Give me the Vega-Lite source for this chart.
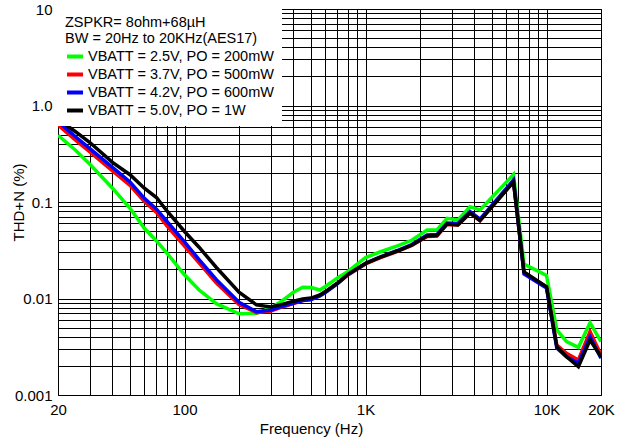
{
  "$schema": "https://vega.github.io/schema/vega-lite/v6.json",
  "width": 543,
  "height": 386,
  "autosize": {"type": "none"},
  "padding": {"left": 58, "top": 9, "right": 20, "bottom": 42},
  "background": "white",
  "config": {
    "font": "Liberation Sans",
    "view": {"stroke": "black", "strokeWidth": 1},
    "axis": {
      "grid": true,
      "gridColor": "black",
      "gridOpacity": 1,
      "gridWidth": 1,
      "ticks": false,
      "domain": false,
      "labelFont": "Liberation Sans",
      "labelFontSize": 15,
      "labelColor": "black",
      "labelFlush": false,
      "labelOverlap": false,
      "titleFont": "Liberation Sans",
      "titleFontSize": 15,
      "titleFontWeight": "normal",
      "titleColor": "black"
    }
  },
  "data": {
    "values": [
      {"f": 20, "v25": 0.491, "v37": 0.628, "v42": 0.683, "v50": 0.721},
      {"f": 25, "v25": 0.344, "v37": 0.437, "v42": 0.475, "v50": 0.535},
      {"f": 30, "v25": 0.2464, "v37": 0.3305, "v42": 0.3576, "v50": 0.4135},
      {"f": 40, "v25": 0.139, "v37": 0.2105, "v42": 0.2283, "v50": 0.2572},
      {"f": 50, "v25": 0.086, "v37": 0.149, "v42": 0.1612, "v50": 0.1918},
      {"f": 60, "v25": 0.0534, "v37": 0.1009, "v42": 0.1092, "v50": 0.139},
      {"f": 70, "v25": 0.0395, "v37": 0.0778, "v42": 0.0842, "v50": 0.1113},
      {"f": 80, "v25": 0.02947, "v37": 0.0564, "v42": 0.0628, "v50": 0.0807},
      {"f": 100, "v25": 0.0176, "v37": 0.035, "v42": 0.0386, "v50": 0.0495},
      {"f": 120, "v25": 0.0123, "v37": 0.0235, "v42": 0.02548, "v50": 0.0342},
      {"f": 150, "v25": 0.00884, "v37": 0.01444, "v42": 0.01566, "v50": 0.02096},
      {"f": 200, "v25": 0.00694, "v37": 0.00867, "v42": 0.00913, "v50": 0.0116},
      {"f": 250, "v25": 0.00703, "v37": 0.00713, "v42": 0.0073, "v50": 0.00859},
      {"f": 300, "v25": 0.00797, "v37": 0.00742, "v42": 0.0076, "v50": 0.00817},
      {"f": 350, "v25": 0.0096, "v37": 0.00822, "v42": 0.00836, "v50": 0.00875},
      {"f": 400, "v25": 0.01162, "v37": 0.00888, "v42": 0.00898, "v50": 0.00938},
      {"f": 450, "v25": 0.01306, "v37": 0.00953, "v42": 0.00953, "v50": 0.00988},
      {"f": 500, "v25": 0.013, "v37": 0.00976, "v42": 0.00976, "v50": 0.0101},
      {"f": 560, "v25": 0.01225, "v37": 0.01074, "v42": 0.0106, "v50": 0.01087},
      {"f": 600, "v25": 0.01332, "v37": 0.01168, "v42": 0.01154, "v50": 0.0118},
      {"f": 700, "v25": 0.01634, "v37": 0.0143, "v42": 0.0143, "v50": 0.01447},
      {"f": 800, "v25": 0.01905, "v37": 0.01752, "v42": 0.01773, "v50": 0.0178},
      {"f": 1000, "v25": 0.0266, "v37": 0.02278, "v42": 0.02305, "v50": 0.0231},
      {"f": 1200, "v25": 0.03033, "v37": 0.0263, "v42": 0.0269, "v50": 0.02666},
      {"f": 1500, "v25": 0.0351, "v37": 0.0307, "v42": 0.03144, "v50": 0.03106},
      {"f": 1800, "v25": 0.0401, "v37": 0.0354, "v42": 0.03627, "v50": 0.0356},
      {"f": 2190, "v25": 0.0513, "v37": 0.0439, "v42": 0.0455, "v50": 0.0444},
      {"f": 2480, "v25": 0.0513, "v37": 0.0444, "v42": 0.046, "v50": 0.045},
      {"f": 2820, "v25": 0.0678, "v37": 0.0585, "v42": 0.0606, "v50": 0.0592},
      {"f": 3240, "v25": 0.0651, "v37": 0.0578, "v42": 0.0599, "v50": 0.0578},
      {"f": 3780, "v25": 0.0894, "v37": 0.0769, "v42": 0.0797, "v50": 0.0769},
      {"f": 4290, "v25": 0.0826, "v37": 0.0643, "v42": 0.0666, "v50": 0.064},
      {"f": 6570, "v25": 0.1928, "v37": 0.1632, "v42": 0.169, "v50": 0.1612},
      {"f": 7510, "v25": 0.02278, "v37": 0.0186, "v42": 0.01794, "v50": 0.01882},
      {"f": 10000, "v25": 0.0173, "v37": 0.01316, "v42": 0.01285, "v50": 0.01326},
      {"f": 11400, "v25": 0.00472, "v37": 0.0033, "v42": 0.00307, "v50": 0.003166},
      {"f": 12900, "v25": 0.00357, "v37": 0.0027, "v42": 0.002493, "v50": 0.002493},
      {"f": 15000, "v25": 0.00312, "v37": 0.002306, "v42": 0.00213, "v50": 0.001965},
      {"f": 17400, "v25": 0.00561, "v37": 0.00453, "v42": 0.00402, "v50": 0.003715},
      {"f": 20000, "v25": 0.00357, "v37": 0.0026, "v42": 0.0024, "v50": 0.002493}
    ]
  },
  "transform": [
    {"fold": ["v25", "v37", "v42", "v50"], "as": ["vbatt", "thd"]}
  ],
  "mark": {"type": "line", "strokeWidth": 3.5, "clip": true},
  "encoding": {
    "x": {
      "field": "f",
      "type": "quantitative",
      "scale": {"type": "log", "domain": [20, 20000], "nice": false},
      "axis": {
        "title": "Frequency (Hz)",
        "values": [20, 30, 40, 50, 60, 70, 80, 90, 100, 200, 300, 400, 500, 600, 700, 800, 900, 1000, 2000, 3000, 4000, 5000, 6000, 7000, 8000, 9000, 10000, 20000],
        "labelExpr": "datum.value == 20 ? '20' : datum.value == 100 ? '100' : datum.value == 1000 ? '1K' : datum.value == 10000 ? '10K' : datum.value == 20000 ? '20K' : ''",
        "labelPadding": 7,
        "titleX": 253,
        "titleY": 33,
        "titleBaseline": "middle"
      }
    },
    "y": {
      "field": "thd",
      "type": "quantitative",
      "scale": {"type": "log", "domain": [0.001, 10], "nice": false},
      "axis": {
        "title": "THD+N (%)",
        "values": [0.001, 0.002, 0.003, 0.004, 0.005, 0.006, 0.007, 0.008, 0.009, 0.01, 0.02, 0.03, 0.04, 0.05, 0.06, 0.07, 0.08, 0.09, 0.1, 0.2, 0.3, 0.4, 0.5, 0.6, 0.7, 0.8, 0.9, 1, 2, 3, 4, 5, 6, 7, 8, 9, 10],
        "labelExpr": "datum.value == 10 ? '10' : datum.value == 1 ? '1.0' : datum.value == 0.1 ? '0.1' : datum.value == 0.01 ? '0.01' : datum.value == 0.001 ? '0.001' : ''",
        "labelPadding": 6,
        "titleX": -40,
        "titleY": 193,
        "titleBaseline": "middle"
      }
    },
    "color": {
      "field": "vbatt",
      "type": "nominal",
      "scale": {
        "domain": ["v25", "v37", "v42", "v50"],
        "range": ["#00ff00", "#ff0000", "#0000ff", "#000000"]
      },
      "legend": {
        "orient": "top-left",
        "offset": 0,
        "title": ["ZSPKR= 8ohm+68µH", "BW = 20Hz to 20KHz(AES17)"],
        "titleFont": "Liberation Sans",
        "titleFontSize": 14.5,
        "titleFontWeight": "normal",
        "titleColor": "black",
        "titleLimit": 400,
        "titleLineHeight": 16,
        "titlePadding": 0,
        "labelFont": "Liberation Sans",
        "labelFontSize": 14.5,
        "labelColor": "black",
        "labelLimit": 300,
        "labelOffset": 3,
        "labelExpr": "datum.value == 'v25' ? 'VBATT = 2.5V, PO = 200mW' : datum.value == 'v37' ? 'VBATT = 3.7V, PO = 500mW' : datum.value == 'v42' ? 'VBATT = 4.2V, PO = 600mW' : 'VBATT = 5.0V, PO = 1W'",
        "symbolType": "stroke",
        "symbolSize": 256,
        "symbolStrokeWidth": 4,
        "fillColor": "white",
        "padding": 7,
        "rowPadding": 0
      }
    }
  }
}
